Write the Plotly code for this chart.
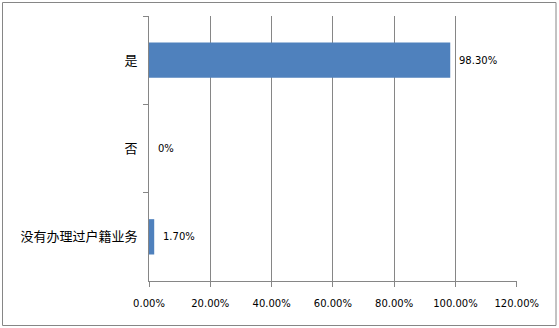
import plotly.graph_objects as go

categories = ["是", "否", "没有办理过户籍业务"]
values = [0.983, 0.0, 0.017]
value_labels = ["98.30%", "0%", "1.70%"]
x_ticks = [0, 0.2, 0.4, 0.6, 0.8, 1.0, 1.2]

W, H = 559, 328
L, R, T, B = 149, 517, 16, 281

fig = go.Figure()
fig.add_trace(go.Bar(
    y=categories, x=values, orientation="h",
    marker=dict(color="#4F81BD", line=dict(width=0)),
    width=0.4,
))
for c, v, lab in zip(categories, values, value_labels):
    fig.add_annotation(x=v, y=c, text=lab, showarrow=False, xanchor="left",
                       xshift=7, font=dict(family="DejaVu Sans", size=10, color="#000"))

pw, ph = R - L, B - T
fig.add_shape(type="rect", xref="paper", yref="paper",
              x0=(2.5 - L) / pw, x1=(556 - L) / pw,
              y0=(B - 325.5) / ph, y1=(B - 2.5) / ph,
              line=dict(color="#868686", width=1), fillcolor="rgba(0,0,0,0)")

fig.update_layout(
    width=W, height=H,
    margin=dict(l=L, r=W - R, t=T, b=H - B),
    paper_bgcolor="white", plot_bgcolor="white",
    showlegend=False,
    xaxis=dict(range=[0, 1.2008], tickvals=x_ticks, tickformat=".2%",
               showgrid=True, gridcolor="#868686", gridwidth=1,
               zeroline=False, showline=True, linecolor="#868686",
               ticks="outside", ticklen=5, tickcolor="#868686",
               tickfont=dict(family="DejaVu Sans", size=10, color="#000"),
               ticklabelstandoff=8),
    yaxis=dict(categoryorder="array", categoryarray=categories, autorange="reversed",
               tickson="boundaries", showgrid=False, zeroline=False,
               showline=True, linecolor="#868686",
               ticks="outside", ticklen=5, tickcolor="#868686",
               tickfont=dict(family="Noto Sans CJK SC", size=13, color="#000"),
               ticklabelstandoff=8),
)
fig.write_html("out.html")
